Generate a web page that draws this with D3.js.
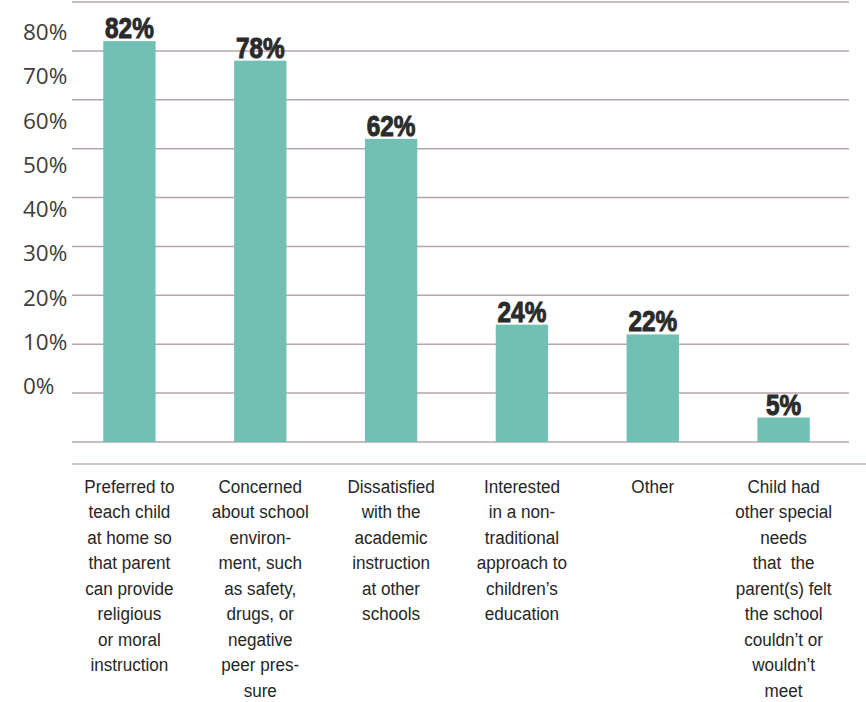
<!DOCTYPE html>
<html>
<head>
<meta charset="utf-8">
<script src="https://cdn.jsdelivr.net/npm/d3@7"></script>
<style>
  html, body { margin: 0; padding: 0; background: #ffffff; }
  svg { display: block; }
</style>
</head>
<body>
<svg id="chart" width="866" height="702"></svg>
<script>
const categories = [
  "Preferred to|teach child|at home so|that parent|can provide|religious|or moral|instruction",
  "Concerned|about school|environ-|ment, such|as safety,|drugs, or|negative|peer pres-|sure",
  "Dissatisfied|with the|academic|instruction|at other|schools",
  "Interested|in a non-|traditional|approach to|children\u2019s|education",
  "Other",
  "Child had|other special|needs|that  the|parent(s) felt|the school|couldn\u2019t or|wouldn\u2019t|meet"
];
const values = [82, 78, 62, 24, 22, 5];
const valueLabels = ["82%", "78%", "62%", "24%", "22%", "5%"];
const gridValues = [0, 10, 20, 30, 40, 50, 60, 70, 80, 90];
const tickValues = [0, 10, 20, 30, 40, 50, 60, 70, 80];
const tickLabels = ["0%", "10%", "20%", "30%", "40%", "50%", "60%", "70%", "80%"];

const svg = d3.select("#chart");

const x = d3.scaleBand().domain(d3.range(categories.length)).range([64, 849]).padding(0);
const y = d3.scaleLinear().domain([0, 90]).range([442, 2]);
// the printed tick labels sit on their own (offset) positions in the source graphic
const yLabel = d3.scaleLinear().domain([0, 80]).range([394, 40]);

const barW = x.bandwidth() * 0.4;

// gridlines
svg.append("g").selectAll("line").data(gridValues).join("line")
  .attr("x1", 72).attr("x2", 849)
  .attr("y1", d => y(d)).attr("y2", d => y(d))
  .attr("stroke", "#b9a3ad").attr("stroke-width", 1.5);

// baseline under chart
svg.append("line")
  .attr("x1", 72).attr("x2", 866)
  .attr("y1", 464).attr("y2", 464)
  .attr("stroke", "#c4b3ba").attr("stroke-width", 1.5);

// tick labels
svg.append("g").selectAll("text").data(tickValues).join("text")
  .attr("x", 23).attr("y", d => yLabel(d))
  .attr("font-family", "'Open Sans', sans-serif")
  .attr("font-size", 22.5)
  .attr("fill", "#3d3d3d")
  .text((d, i) => tickLabels[i]);

// bars
svg.append("g").selectAll("rect").data(values).join("rect")
  .attr("x", (d, i) => x(i) + (x.bandwidth() - barW) / 2)
  .attr("width", barW)
  .attr("y", d => y(d))
  .attr("height", d => y(0) - y(d))
  .attr("fill", "#72c0b4");

// value labels (condensed heavy)
svg.append("g").selectAll("g").data(values).join("g")
  .attr("transform", (d, i) => `translate(${x(i) + x.bandwidth() / 2},${y(d) - 3}) scale(0.84,1)`)
  .append("text")
  .attr("text-anchor", "middle")
  .attr("font-family", "'Liberation Sans', Arial, sans-serif")
  .attr("font-weight", "bold")
  .attr("font-size", 29)
  .attr("fill", "#2b2b2b")
  .attr("stroke", "#2b2b2b").attr("stroke-width", 1)
  .text((d, i) => valueLabels[i]);

// category labels (condensed)
const cat = svg.append("g").selectAll("g").data(categories).join("g")
  .attr("transform", (d, i) => `translate(${x(i) + x.bandwidth() / 2},493) scale(0.9,1)`)
  .append("text")
  .attr("text-anchor", "middle")
  .attr("font-family", "'Liberation Sans', Arial, sans-serif")
  .attr("font-size", 19)
  .attr("fill", "#262626");
cat.each(function(d) {
  const t = d3.select(this);
  d.split("|").forEach((line, j) => {
    t.append("tspan")
      .attr("x", 0)
      .attr("y", j * 25.5)
      .attr("xml:space", "preserve")
      .text(line);
  });
});
</script>
</body>
</html>
